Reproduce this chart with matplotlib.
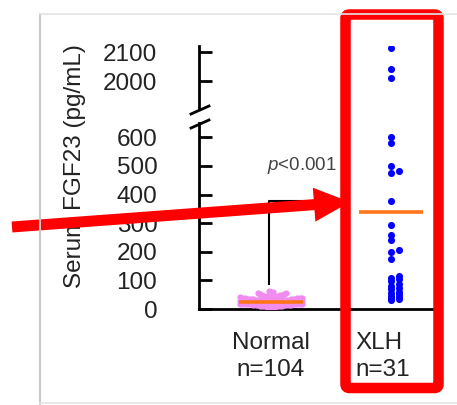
import numpy as np
import matplotlib
matplotlib.use("Agg")
import matplotlib.pyplot as plt
import matplotlib.transforms as mtransforms
from matplotlib.patches import FancyArrow, FancyBboxPatch

plt.rcParams['font.family'] = ['Liberation Sans', 'DejaVu Sans']
plt.rcParams['mathtext.fontset'] = 'custom'
plt.rcParams['mathtext.it'] = 'Liberation Sans:italic'
plt.rcParams['mathtext.rm'] = 'Liberation Sans'

# --- DATA ---
groups = ["Normal", "XLH"]
group_n = ["n=104", "n=31"]
normal_fgf23 = [2, 4, 6, 7, 8, 9, 10, 11, 11, 12,
                12, 13, 13, 14, 14, 14, 15, 15, 16, 16,
                17, 17, 17, 18, 18, 18, 19, 19, 19, 20,
                20, 20, 20, 21, 21, 21, 22, 22, 22, 22,
                23, 23, 23, 24, 24, 24, 24, 25, 25, 25,
                26, 26, 26, 26, 27, 27, 27, 28, 28, 28,
                28, 29, 29, 29, 30, 30, 30, 31, 31, 31,
                32, 32, 33, 33, 34, 34, 34, 35, 35, 36,
                36, 37, 37, 38, 39, 39, 40, 41, 42, 43,
                44, 45, 46, 47, 48, 49, 50, 51, 53, 55,
                57, 59, 61, 64]
xlh_fgf23 = [2113, 2040, 2010, 600, 580, 500, 483, 475, 376, 295,
             260, 240, 205, 199, 176, 116, 110, 105, 98, 88,
             81, 75, 69, 60, 56, 52, 46, 41, 38, 35, 30]
group_bar = [26, 338]          # orange bar level per group
p_text = r"$p$<0.001"
low_ticks = [0, 100, 200, 300, 400, 500, 600]
high_ticks = [2000, 2100]

# --- LAYOUT (pixels of the 457x405 canvas) ---
W, H = 457, 405
PX_X = 120.0      # px per category unit
PX_Y = 0.286      # px per pg/mL

fig = plt.figure(figsize=(W / 100, H / 100), dpi=100)


def px_axes(x0, y0, x1, y1, **kw):
    return fig.add_axes([x0 / W, 1 - y1 / H, (x1 - x0) / W, (y1 - y0) / H], **kw)


def column_offsets(values, step_px, cols, min_gap_px):
    # simple column swarm: lowest values first, fill columns in order
    vals = np.asarray(values, float)
    last = {}
    off = np.zeros(len(vals))
    for i in np.argsort(vals):
        y = vals[i] * PX_Y
        best, best_gap = None, -1e9
        for c in cols:
            gap = y - last.get(c, -1e9)
            if gap >= min_gap_px:
                best = c
                break
            if gap > best_gap:
                best, best_gap = c, gap
        last[best] = y
        off[i] = best * step_px / PX_X
    return off


ax_lo = px_axes(199, 123, 438, 309)
ax_hi = px_axes(199, 46, 438, 109)
xlim = (-(271 - 199) / PX_X, 1 + (438 - 391) / PX_X)
ax_lo.set_xlim(*xlim)
ax_hi.set_xlim(*xlim)
ax_lo.set_ylim(0, (309 - 123) / PX_Y)
ax_hi.set_ylim(2000 - (109 - 81) / 0.29, 2100 + (52 - 46) / 0.29)

side_cols = [0] + [s * k for k in range(1, 15) for s in (1, -1)]
x_norm = 0 + column_offsets(normal_fgf23, 2.2, side_cols, 5.0)
x_xlh = 1 + column_offsets(xlh_fgf23, 7.5, [0, 1], 4.0)

for ax in (ax_lo, ax_hi):
    ax.scatter(x_norm, normal_fgf23, s=20, color='#F08CF0', lw=0, zorder=3)
    ax.scatter(x_xlh, xlh_fgf23, s=26, color='#0000FF', lw=0, zorder=3)
    for sp in ('top', 'right'):
        ax.spines[sp].set_visible(False)
    ax.spines['left'].set_linewidth(2)
    ax.set_xticks([])
    ax.tick_params(axis='y', direction='in', length=9.4, width=2, pad=30,
                   labelsize=17.5, labelcolor='#222222')
    ax.patch.set_alpha(0)

ax_hi.spines['bottom'].set_visible(False)
ax_lo.spines['bottom'].set_linewidth(2)
ax_lo.set_yticks(low_ticks)
ax_hi.set_yticks(high_ticks)

# orange bars
for i, lvl in enumerate(group_bar):
    ax_lo.plot([i - 0.27, i + 0.27], [lvl, lvl], color='#FF7518', lw=2.6,
               solid_capstyle='butt', zorder=4)

# significance bracket + p value
ax_lo.plot([-0.02, -0.02, 0.45], [87, 378, 378], color='black', lw=1.5, zorder=2)
ax_lo.text(-0.03, 486, p_text, fontsize=13.5, color='#444444',
           ha='left', va='baseline')

# category labels
tr = mtransforms.blended_transform_factory(ax_lo.transData, ax_lo.transAxes)
ax_lo.text(0, -0.213, groups[0], transform=tr, ha='center', va='baseline',
           fontsize=17.5, color='#222222')
ax_lo.text(0, -0.362, group_n[0], transform=tr, ha='center', va='baseline',
           fontsize=17.5, color='#222222')
x_left = 1 - (391 - 355) / PX_X
ax_lo.text(x_left, -0.213, groups[1], transform=tr, ha='left', va='baseline',
           fontsize=17.5, color='#222222')
ax_lo.text(x_left, -0.362, group_n[1], transform=tr, ha='left', va='baseline',
           fontsize=17.5, color='#222222')

fig.text(75 / W, 1 - 166 / H, "Serum FGF23 (pg/mL)", rotation=90,
         ha='center', va='center', fontsize=17.5, color='#222222')

# --- overlay: slide frame, axis break, red highlight ---
ov = fig.add_axes([0, 0, 1, 1], zorder=10)
ov.set_xlim(0, W)
ov.set_ylim(H, 0)
ov.axis('off')
ov.patch.set_alpha(0)

ov.plot([40, 40], [14, 404], color='#c8c8c8', lw=1.5)
ov.plot([40, W], [14, 14], color='#e4e4e4', lw=1.2)
ov.plot([40, W], [403, 403], color='#e4e4e4', lw=1.2)

for yb in (110, 124):
    ov.plot([191, 209], [yb + 4, yb - 4], color='black', lw=2)

ov.add_patch(FancyBboxPatch((345.5, 14.5), 93, 373.5,
                            boxstyle="round,pad=0,rounding_size=4",
                            lw=10.5 * 0.72, ec='#FF0000', fc='none'))
ov.add_patch(FancyArrow(12, 227, 338, -25, width=11, head_width=34,
                        head_length=36, length_includes_head=True,
                        color='#FF0000', lw=0))

fig.savefig("out.png", dpi=100)
